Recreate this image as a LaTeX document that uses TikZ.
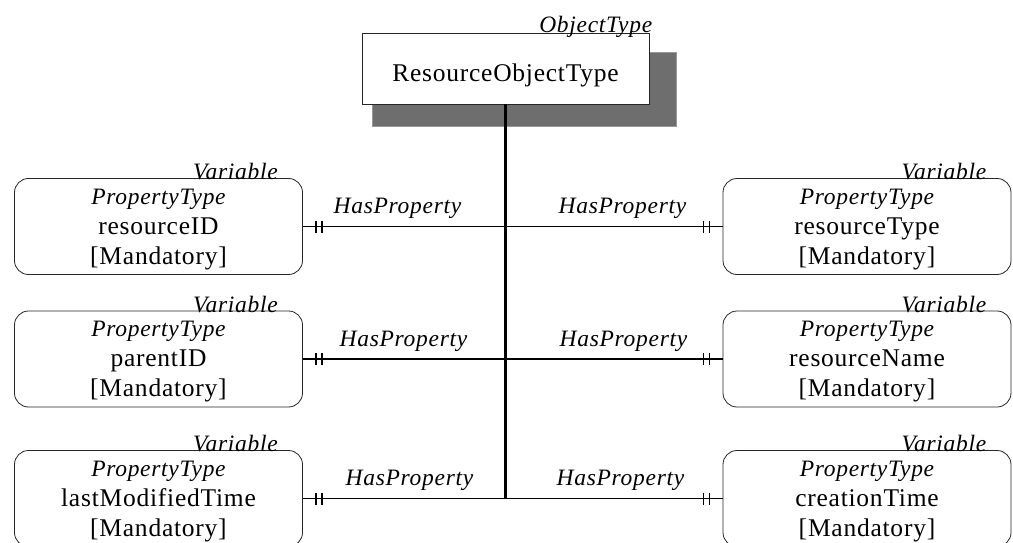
\documentclass[tikz,border=0pt]{standalone}
\usepackage{fontspec}
\setmainfont{Liberation Serif}[LetterSpace=3]
\usetikzlibrary{calc}

\newcommand\itfont{\fontsize{23.5}{30}\selectfont\itshape}

\tikzset{
  base font/.style={font=\fontsize{25.5}{30}\selectfont},
  objbox/.style={base font, draw=black!85, line width=0.8pt, fill=white,
    minimum width=287pt, minimum height=71pt, inner sep=0pt,
    text height=26pt, text depth=0pt},
  objshadow/.style={fill=black!57, draw=black!40, line width=0.8pt},
  varbox/.style={draw=black!85, line width=0.8pt, fill=white,
    rounded corners=14pt, minimum width=288pt, minimum height=96pt, inner sep=0pt},
  vartext/.style={base font, align=center, inner sep=0pt},
  stereo/.style={font=\itfont, anchor=base east, inner sep=0pt},
  rellabel/.style={font=\itfont, anchor=base, inner sep=0pt},
  spine/.style={line width=2.4pt},
  relline/.style={line width=1.5pt},
  tick/.style={line width=1.4pt},
}

% double bar drawn on a connector, #1 = box anchor, #2 = direction (+1 right, -1 left)
\newcommand\mandticks[2]{%
  \draw[tick] ($(#1)+(#2*13,-6)$) -- ++(0,12);
  \draw[tick] ($(#1)+(#2*19,-6)$) -- ++(0,12);
}

% property box with its stereotype and three text lines
\newcommand\propbox[3]{%
  \node[varbox] (#1) at (#2) {};
  \node[vartext] (#1t) at ($(#1.center)+(0,3)$) {{\itfont PropertyType}\\#3\\{[Mandatory]}};
  \node[stereo] (#1v) at ($(#1.north east)+(-25,1.5)$) {Variable};
}

\begin{document}
\begin{tikzpicture}[x=1pt,y=-1pt]
  \useasboundingbox (0,0) rectangle (1013,543);

  % object type with its drop shadow
  \fill[objshadow] (372,52) rectangle (676,126);
  \node[objbox] (obj) at (505.5,68.5) {ResourceObjectType};
  \node[stereo] (objst) at ($(obj.north east)+(3,0)$) {ObjectType};

  % property boxes
  \propbox{L1}{158.5,226.5}{resourceID}
  \propbox{R1}{867,226.5}{resourceType}
  \propbox{L2}{158.5,359}{parentID}
  \propbox{R2}{867,359}{resourceName}
  \propbox{L3}{158.5,498.5}{lastModifiedTime}
  \propbox{R3}{867,498.5}{creationTime}

  % junctions on the spine
  \coordinate (j1) at (obj.south |- L1.east);
  \coordinate (j2) at (obj.south |- L2.east);
  \coordinate (j3) at (obj.south |- L3.east);

  \draw[spine] (obj.south) -- (j3);

  \foreach \r in {1,2,3} {
    \draw[relline] (L\r.east) -- (j\r);
    \draw[relline] (j\r) -- (R\r.west);
    \mandticks{L\r.east}{1}
    \mandticks{R\r.west}{-1}
  }

  % relation names
  \node[rellabel] (h1l) at ($(j1)+(-108,-13)$) {HasProperty};
  \node[rellabel] (h1r) at ($(j1)+(117,-13)$)  {HasProperty};
  \node[rellabel] (h2l) at ($(j2)+(-102,-13)$) {HasProperty};
  \node[rellabel] (h2r) at ($(j2)+(118,-13)$)  {HasProperty};
  \node[rellabel] (h3l) at ($(j3)+(-96,-13)$)  {HasProperty};
  \node[rellabel] (h3r) at ($(j3)+(115,-13)$)  {HasProperty};
\end{tikzpicture}
\end{document}
